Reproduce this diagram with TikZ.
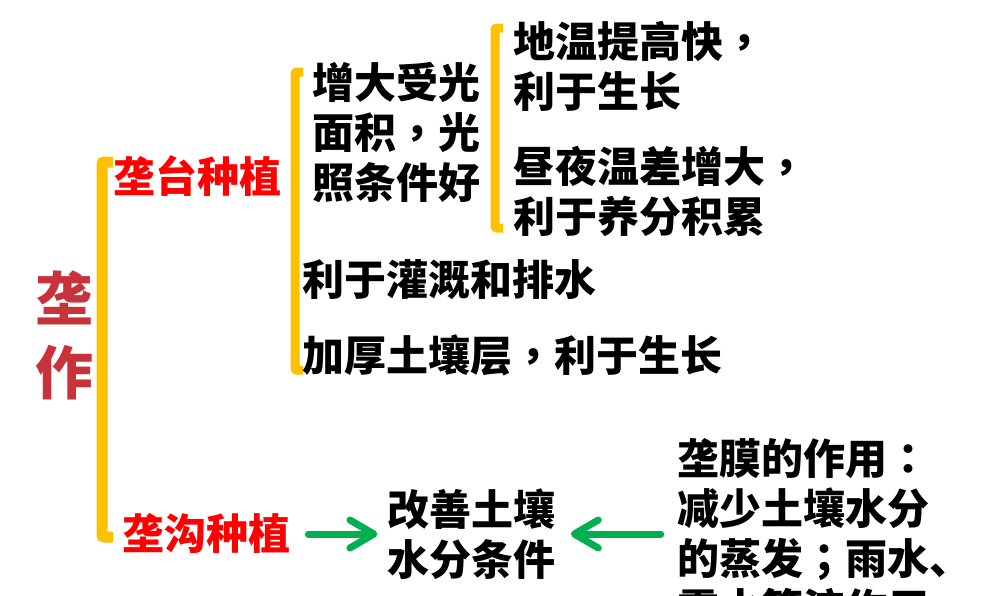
\documentclass[tikz,border=0pt]{standalone}
\usepackage{fontspec}
\setmainfont{Noto Sans CJK SC}
\newfontfamily\tcpunct{Noto Sans CJK TC}
\newcommand\dou{{\tcpunct ，}}
\newcommand\mao{{\tcpunct ：}}
\newcommand\fenh{{\tcpunct ；}}
\usepackage{xcolor}
\usepackage{tikz}
\usetikzlibrary{arrows.meta,positioning}

\definecolor{brack}{HTML}{FFC000}
\definecolor{garr}{HTML}{00B050}
\definecolor{zuored}{HTML}{C8333B}

\begin{document}
\begin{tikzpicture}[x=1pt,y=-1pt,
        txt/.style={inner sep=0pt, anchor=west, align=left,
                font=\bfseries\fontsize{42}{50}\selectfont},
        head/.style={txt, text=red},
        brace/.style={draw=brack, line width=9pt, rounded corners=2pt},
        garrow/.style={draw=garr, line width=7pt, line cap=round,
                -{Straight Barb[length=24pt,width=28pt,round]}}]

                \useasboundingbox (0,0) rectangle (1005,595);
                \clip (0,0) rectangle (1005,595);

                \node [txt, anchor=center, align=center, text=zuored,
                        font=\bfseries\fontsize{58}{74}\selectfont]
                                        (zuo) at (64,335) {垄\\作};

                \draw[brace, line width=11pt] (113,162) -- (102,162) -- (102,537) -- (113,537);
                \node [head] (tai) at (113,176) {垄台种植};
                \node [head] (gou) at (122,534) {垄沟种植};

                \draw[brace] (303,72) -- (295,72) -- (295,370) -- (303,370);
                \node [txt] (guang) at (312,132) {增大受光\\面积\dou 光\\照条件好};
                \node [txt] (guangai) at (302,280) {利于灌溉和排水};
                \node [txt] (jiahou) at (302,355) {加厚土壤层\dou 利于生长};

                \draw[brace] (503,28) -- (495,28) -- (495,228) -- (503,228);
                \node [txt] (diwen) at (513,66) {地温提高快\dou\\利于生长};
                \node [txt] (zhouye) at (513,191) {昼夜温差增大\dou\\利于养分积累};

                \node [txt, right = 97pt of gou] (gaishan) {改善土壤\\水分条件};
                \node [txt, right = 121pt of gaishan]
                                        (mo) {垄膜的作用\mao\\减少土壤水分\\的蒸发\fenh 雨水、\\露水等流作用};

                \draw[garrow, shorten <=18pt, shorten >=10pt] (gou.east) -- (gou.east -| gaishan.west);
                \draw[garrow, shorten <=16pt, shorten >=15pt] (mo.west |- gaishan.east) -- (gaishan.east);
\end{tikzpicture}
\end{document}
